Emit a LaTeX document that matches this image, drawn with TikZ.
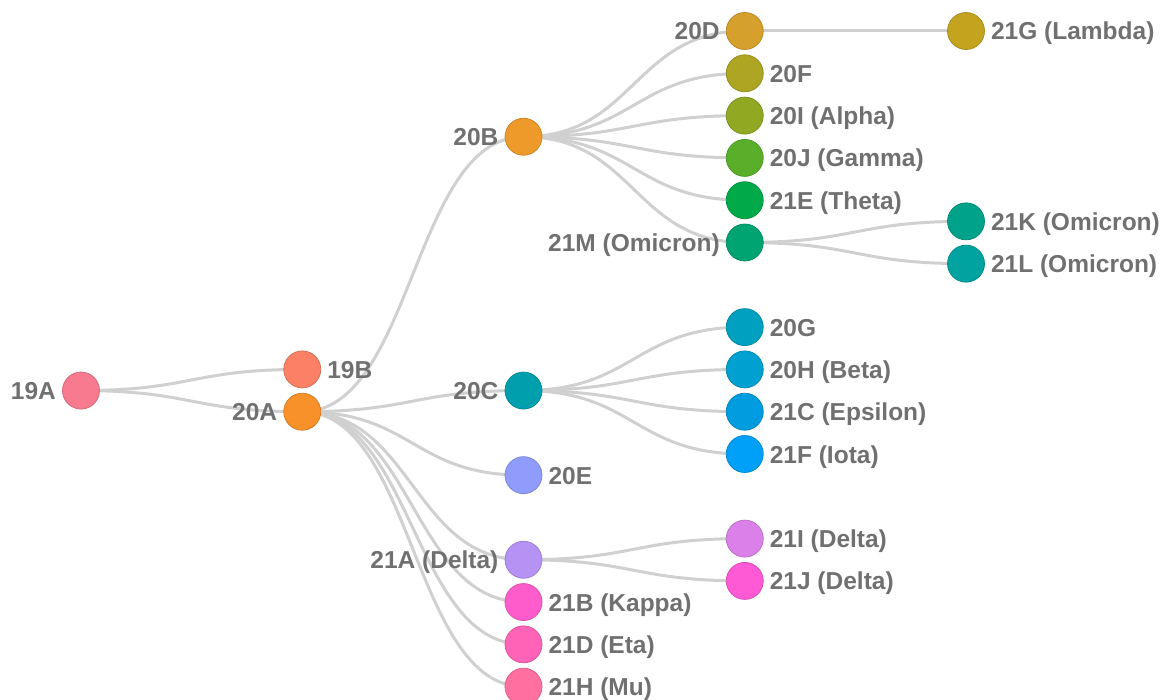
\documentclass[tikz,border=0pt]{standalone}
\usepackage{fontspec}
\setmainfont{Liberation Sans}
\usetikzlibrary{backgrounds}

\definecolor{labelgray}{HTML}{707070}
\definecolor{linkgray}{HTML}{D0D0D0}
% clade colours
\definecolor{c19A}{HTML}{F77A8E}
\definecolor{c19B}{HTML}{FC8066}
\definecolor{c20A}{HTML}{F8912A}
\definecolor{c20B}{HTML}{EE9A2A}
\definecolor{c20D}{HTML}{D5A02C}
\definecolor{c21G}{HTML}{C4A31E}
\definecolor{c20F}{HTML}{AEA523}
\definecolor{c20I}{HTML}{90A822}
\definecolor{c20J}{HTML}{5AAF2A}
\definecolor{c21E}{HTML}{00AA48}
\definecolor{c21M}{HTML}{00A470}
\definecolor{c21K}{HTML}{00A38A}
\definecolor{c21L}{HTML}{00A3A0}
\definecolor{c20C}{HTML}{009FAE}
\definecolor{c20G}{HTML}{00A0C0}
\definecolor{c20H}{HTML}{00A0D0}
\definecolor{c21C}{HTML}{009CE0}
\definecolor{c21F}{HTML}{00A0F8}
\definecolor{c20E}{HTML}{909CFB}
\definecolor{c21A}{HTML}{B692F5}
\definecolor{c21I}{HTML}{DB80E8}
\definecolor{c21J}{HTML}{FF5AD6}
\definecolor{c21B}{HTML}{FF5CCB}
\definecolor{c21D}{HTML}{FF63B7}
\definecolor{c21H}{HTML}{FF6FA0}

\begin{document}
\begin{tikzpicture}[x=221.25pt, y=-42.3pt,
    clade/.style={circle, minimum size=37pt, inner sep=0, fill=#1, draw=#1!85!black, line width=0.75pt},
    tag/.style={text=labelgray, font=\bfseries\fontsize{24.5}{29}\selectfont, inner sep=0, text height=18pt, text depth=0pt},
    label distance=6pt,
    link/.style={draw=linkgray, line width=3pt}]
      \useasboundingbox (-0.3661,-0.7329) rectangle (4.8949,15.792);

      % Clades labelled on the left
      \foreach \n/\col/\row/\txt in {
        19A/0/8.5/19A, 20A/1/9/20A, 20B/2/2.5/20B, 20C/2/8.5/20C,
        21A/2/12.5/21A (Delta), 20D/3/0/20D, 21M/3/5/21M (Omicron)} {
        \node[clade=c\n, label={[tag]left:\txt}] (\n) at (\col,\row) {};
      }

      % Clades labelled on the right
      \foreach \n/\col/\row/\txt in {
        19B/1/8/19B, 20E/2/10.5/20E, 21B/2/13.5/21B (Kappa),
        21D/2/14.5/21D (Eta), 21H/2/15.5/21H (Mu),
        20F/3/1/20F, 20I/3/2/20I (Alpha), 20J/3/3/20J (Gamma),
        21E/3/4/21E (Theta), 20G/3/7/20G, 20H/3/8/20H (Beta),
        21C/3/9/21C (Epsilon), 21F/3/10/21F (Iota),
        21I/3/12/21I (Delta), 21J/3/13/21J (Delta),
        21G/4/0/21G (Lambda), 21K/4/4.5/21K (Omicron), 21L/4/5.5/21L (Omicron)} {
        \node[clade=c\n, label={[tag]right:\txt}] (\n) at (\col,\row) {};
      }

      % Links parent -> child
      \begin{scope}[on background layer]
        \foreach \a/\b in {
          19A/19B, 19A/20A,
          20A/20B, 20A/20C, 20A/20E, 20A/21A, 20A/21B, 20A/21D, 20A/21H,
          20B/20D, 20B/20F, 20B/20I, 20B/20J, 20B/21E, 20B/21M,
          20C/20G, 20C/20H, 20C/21C, 20C/21F,
          21A/21I, 21A/21J,
          20D/21G, 21M/21K, 21M/21L} {
          \draw[link] (\a.center) .. controls +(0.5,0) and +(-0.5,0) .. (\b.center);
        }
      \end{scope}
    \end{tikzpicture}
\end{document}
